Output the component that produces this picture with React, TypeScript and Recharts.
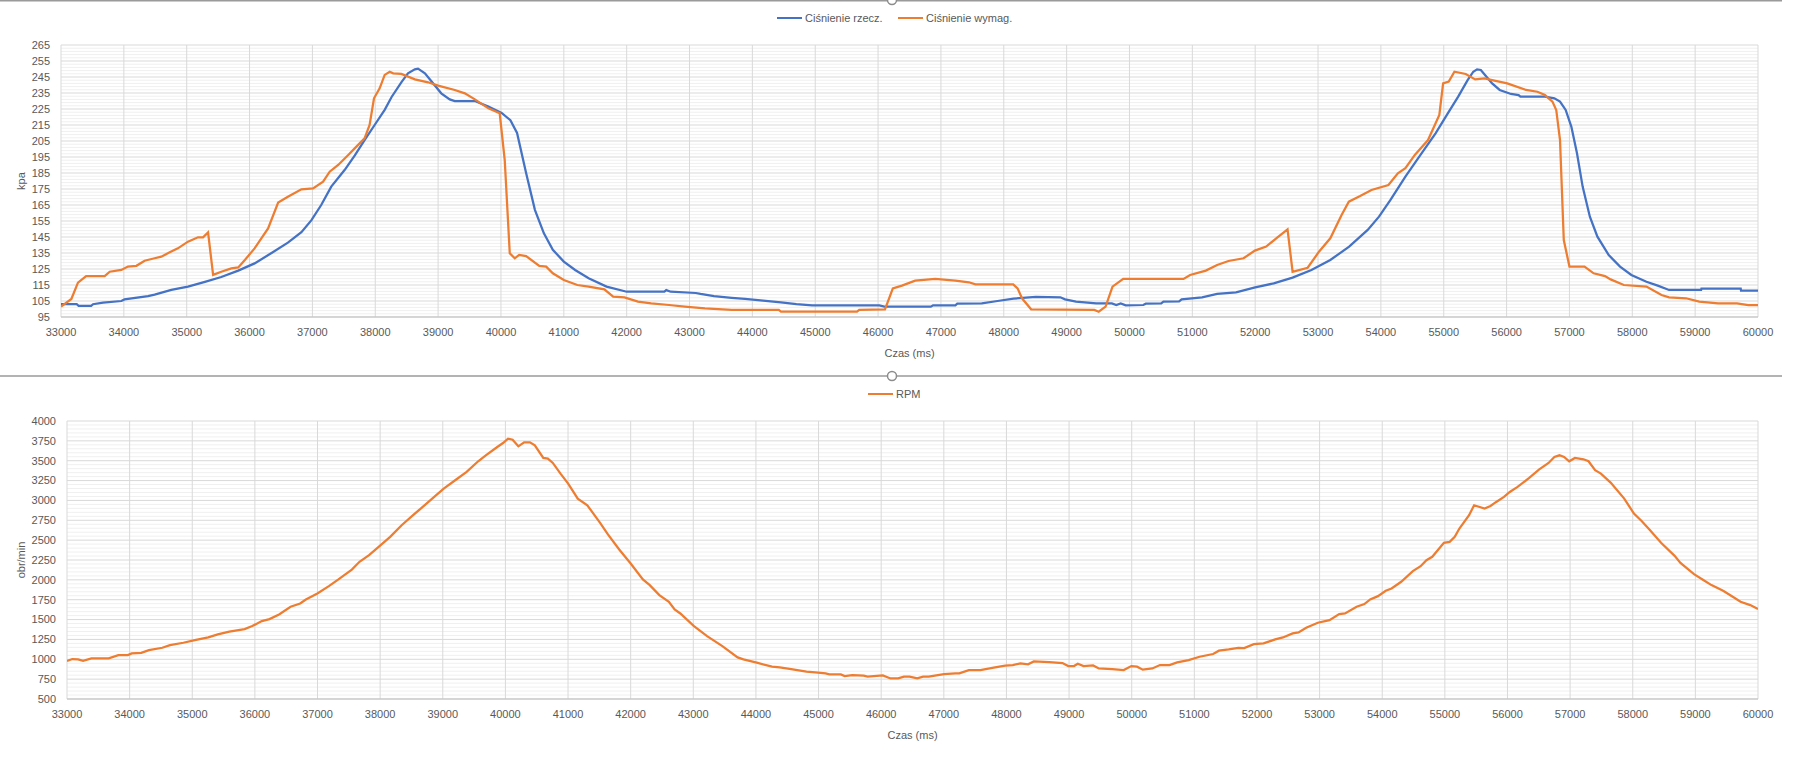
import React from 'react';
import { LineChart, Line, XAxis, YAxis, CartesianGrid } from 'recharts';

// ---------- tick labels ----------
const timeTicks = [
  33000, 34000, 35000, 36000, 37000, 38000, 39000, 40000, 41000, 42000, 43000, 44000, 45000, 46000,
  47000, 48000, 49000, 50000, 51000, 52000, 53000, 54000, 55000, 56000, 57000, 58000, 59000, 60000,
];
const pressureTicks = [95, 105, 115, 125, 135, 145, 155, 165, 175, 185, 195, 205, 215, 225, 235, 245, 255, 265];
const rpmTicks = [500, 750, 1000, 1250, 1500, 1750, 2000, 2250, 2500, 2750, 3000, 3250, 3500, 3750, 4000];

// ---------- Ciśnienie rzecz. (actual pressure) ----------
const actualT = [
  33000, 33250, 33280, 33480, 33510, 33670, 33960, 34010, 34385, 34490, 34755, 35020, 35290, 35550, 35820,
  36080, 36350, 36610, 36825, 36985, 37140, 37300, 37515, 37675, 37830, 37990, 38150, 38260, 38420, 38520,
  38630, 38680, 38790, 38890, 39050, 39185, 39265, 39585, 39800, 40010, 40150, 40256, 40400, 40540, 40683,
  40825, 41000, 41180, 41395, 41680, 42000, 42600, 42630, 42700, 43100, 43175, 43390, 43670, 43885, 44170,
  44455, 44700, 44950, 46020, 46100, 46840, 46875, 47230, 47260, 47650, 47900, 48155, 48510, 48900, 48975,
  49150, 49470, 49720, 49790, 49860, 49940, 50220, 50260, 50505, 50540, 50790, 50830, 51155, 51395, 51695,
  52000, 52295, 52595, 52895, 53195, 53495, 53790, 53970, 54150, 54390, 54630, 54870, 55050, 55230, 55380,
  55470, 55530, 55590, 55680, 55770, 55890, 56070, 56190, 56220, 56610, 56760, 56850, 56940, 57030, 57120,
  57210, 57325, 57445, 57625, 57805, 57985, 58225, 58405, 58585, 59095, 59100, 59725, 59730, 60000,
];
const actualV = [
  103, 103, 102, 102, 103, 104, 105, 106, 108, 109, 112, 114, 117, 120, 124,
  128.5, 135, 141.5, 148, 155.5, 165, 176.5, 187, 196, 205.5, 215, 224.5, 232.5, 242, 247.3,
  249.8, 250.2, 247.3, 242.5, 234.8, 231, 230, 230, 226.5, 222.5, 218, 210, 185, 162, 147.3,
  137, 129.6, 124.4, 119.2, 114, 110.8, 110.8, 111.8, 110.8, 110, 109.4, 108, 107, 106.3, 105.2,
  104.2, 103, 102.3, 102.3, 101.5, 101.5, 102.3, 102.3, 103.3, 103.5, 105, 106.5, 107.5, 107.3, 106,
  104.6, 103.5, 103.5, 102.5, 103.5, 102.3, 102.5, 103.3, 103.5, 104.6, 104.8, 106, 107.3, 109.4, 110.4,
  113.5, 116, 119.6, 124.4, 130.6, 139, 149.4, 157.7, 168, 182.7, 196.3, 209.8, 221.3, 232.7, 243,
  248.3, 249.8, 249.4, 245.2, 241, 236.9, 234.4, 233.7, 232.7, 232.7, 231.7, 229.6, 224.4, 214, 197.3,
  176.5, 157.7, 145.2, 133.7, 126.5, 121.3, 117, 114.6, 111.9, 111.9, 112.7, 112.7, 111.5, 111.5,
];

// ---------- Ciśnienie wymag. (requested pressure) ----------
const demandT = [
  33000, 33165, 33270, 33400, 33695, 33775, 33960, 34065, 34200, 34330, 34490, 34595, 34730, 34860, 35020,
  35180, 35260, 35340, 35420, 35550, 35710, 35820, 35925, 36080, 36295, 36455, 36610, 36825, 37010, 37170,
  37275, 37410, 37570, 37700, 37830, 37910, 37980, 38070, 38150, 38230, 38285, 38415, 38630, 38840, 39000,
  39265, 39425, 39585, 39800, 39980, 40060, 40140, 40220, 40290, 40400, 40610, 40720, 40825, 41000, 41215,
  41395, 41645, 41785, 41965, 42180, 42390, 42675, 42925, 43245, 43670, 44420, 44455, 45665, 45700, 46110,
  46235, 46380, 46590, 46910, 47230, 47445, 47550, 48150, 48220, 48290, 48435, 49440, 49510, 49620, 49730,
  49900, 50860, 50965, 51215, 51395, 51575, 51815, 51995, 52175, 52355, 52515, 52595, 52835, 53015, 53195,
  53375, 53490, 53670, 53850, 54120, 54270, 54390, 54540, 54750, 54930, 54990, 55080, 55170, 55350, 55500,
  55650, 55770, 56010, 56310, 56490, 56610, 56730, 56790, 56850, 56910, 57000, 57240, 57385, 57565, 57655,
  57865, 58225, 58465, 58585, 58855, 59065, 59365, 59665, 59845, 60000,
];
const demandV = [
  101.5, 106.3, 116.5, 120.6, 120.6, 123.3, 124.4, 126.5, 127, 130.2, 131.7, 132.7, 135.4, 137.9, 142.1,
  144.8, 144.8, 147.9, 121.3, 123.3, 125.4, 126, 130.6, 137.9, 150.4, 166.5, 170.2, 174.8, 175.4, 179.6,
  185.8, 190, 196.3, 201.5, 206.7, 215, 231.7, 237.9, 246.3, 248.3, 247.3, 246.9, 243.5, 241.7, 239.6,
  236.9, 234.8, 231, 225.4, 222.3, 193, 134.8, 131.7, 133.8, 133.1, 126.9, 126.5, 122.3, 118.1, 115,
  114, 112.3, 107.7, 107.3, 104.6, 103.5, 102.5, 101.5, 100.4, 99.4, 99.4, 98.3, 98.3, 99.4, 99.8,
  112.9, 114.6, 117.7, 118.8, 117.7, 116.7, 115.4, 115.4, 112.9, 106.7, 99.8, 99.4, 98.3, 101.5, 114,
  118.8, 118.8, 121.3, 124, 127.5, 130, 131.7, 136.5, 139, 144.8, 149.8, 123.3, 125.8, 135.8, 144.2,
  158.8, 167.1, 170.6, 174.4, 177.5, 184.8, 188, 196.3, 205.6, 221.3, 241, 242.1, 248.3, 246.9, 243.5,
  244.2, 243.1, 241, 236.9, 235.8, 233.7, 229.6, 224.4, 205.6, 143.1, 126.5, 126.5, 122.3, 120.6, 118.5,
  115, 114, 108.75, 107.3, 106.7, 104.6, 103.5, 103.5, 102.5, 102.5,
];

// ---------- RPM ----------
const rpmT = [
  33000, 33085, 33177, 33257, 33390, 33666, 33820, 33972, 34033, 34186, 34308, 34522, 34644, 34858, 35041,
  35255, 35408, 35592, 35836, 35958, 36111, 36233, 36386, 36570, 36723, 36814, 36998, 37181, 37334, 37548,
  37670, 37823, 37976, 38160, 38343, 38526, 38648, 38831, 39015, 39198, 39381, 39565, 39687, 39870, 39962,
  40042, 40115, 40207, 40299, 40391, 40470, 40605, 40678, 40757, 40880, 41002, 41155, 41308, 41512, 41634,
  41817, 42000, 42195, 42305, 42458, 42610, 42702, 42793, 43006, 43220, 43464, 43708, 43800, 44013, 44257,
  44380, 44563, 44807, 44990, 45112, 45173, 45356, 45417, 45539, 45722, 45783, 46027, 46149, 46271, 46363,
  46454, 46576, 46668, 46759, 47003, 47186, 47247, 47400, 47583, 47797, 47980, 48101, 48223, 48345, 48437,
  48681, 48895, 48987, 49078, 49139, 49231, 49384, 49475, 49689, 49872, 49994, 50085, 50177, 50329, 50451,
  50604, 50726, 50909, 51084, 51300, 51393, 51548, 51703, 51796, 51950, 52105, 52291, 52415, 52570, 52663,
  52786, 52972, 53158, 53313, 53406, 53591, 53715, 53808, 53932, 54056, 54149, 54303, 54489, 54613, 54706,
  54799, 54985, 55077, 55158, 55232, 55387, 55467, 55635, 55728, 55820, 55944, 56037, 56161, 56347, 56502,
  56656, 56749, 56830, 56904, 56985, 57077, 57214, 57294, 57399, 57492, 57647, 57864, 58019, 58142, 58266,
  58452, 58669, 58762, 58978, 59133, 59257, 59443, 59597, 59721, 59876, 60000,
];
const rpmV = [
  978, 1003, 999, 982, 1011, 1011, 1053, 1053, 1074, 1082, 1116, 1145, 1179, 1208, 1242,
  1275, 1313, 1347, 1380, 1418, 1481, 1506, 1565, 1661, 1703, 1753, 1829, 1921, 2005, 2130,
  2227, 2311, 2415, 2541, 2688, 2814, 2898, 3023, 3149, 3254, 3359, 3493, 3568, 3673, 3723,
  3778, 3765, 3681, 3732, 3732, 3694, 3535, 3526, 3472, 3338, 3212, 3023, 2939, 2717, 2575,
  2382, 2206, 2005, 1934, 1808, 1724, 1627, 1577, 1422, 1292, 1166, 1024, 999, 957, 907,
  898, 877, 844, 831, 822, 810, 810, 789, 801, 793, 781, 797, 759, 759, 781,
  781, 759, 781, 781, 814, 822, 822, 864, 864, 894, 919, 927, 948, 936, 973,
  965, 953, 915, 915, 944, 915, 923, 885, 877, 864, 915, 907, 869, 885, 927,
  927, 961, 990, 1032, 1066, 1108, 1124, 1145, 1141, 1191, 1200, 1250, 1275, 1326, 1338,
  1397, 1460, 1493, 1569, 1577, 1661, 1695, 1753, 1795, 1862, 1892, 1976, 2110, 2172, 2248,
  2290, 2466, 2478, 2541, 2646, 2814, 2939, 2898, 2931, 2981, 3044, 3107, 3170, 3283, 3388,
  3472, 3547, 3568, 3547, 3493, 3535, 3518, 3493, 3380, 3338, 3225, 3023, 2835, 2742, 2633,
  2466, 2302, 2214, 2072, 1996, 1934, 1862, 1787, 1724, 1682, 1632,
];

// minor gridline values (between the major ticks)
const minorPressure: number[] = [];
for (let v = 95; v <= 265; v += 2) if ((v - 95) % 10 !== 0) minorPressure.push(v);
const minorRpm: number[] = [];
for (let v = 500; v <= 4000; v += 50) if ((v - 500) % 250 !== 0) minorRpm.push(v);

const actualData = actualT.map((t, i) => ({ t, v: actualV[i] }));
const demandData = demandT.map((t, i) => ({ t, v: demandV[i] }));
const rpmData = rpmT.map((t, i) => ({ t, v: rpmV[i] }));

const FONT = '"Liberation Sans", Arial, sans-serif';
const TXT = '#595959';
const BLUE = '#4472C4';
const ORANGE = '#ED7D31';
const GRID = '#d9d9d9';
const MINOR = '#f0f0f0';

const tickStyle = { fill: TXT, fontSize: 11, fontFamily: FONT };

function LegendItem({ left, top, color, text }: { left: number; top: number; color: string; text: string }) {
  return (
    <div
      style={{
        position: 'absolute',
        left,
        top,
        height: 14,
        display: 'flex',
        alignItems: 'center',
        whiteSpace: 'nowrap',
        fontSize: 11,
        color: TXT,
        fontFamily: FONT,
      }}
    >
      <span style={{ display: 'inline-block', width: 25, height: 2.5, background: color, marginRight: 3 }} />
      <span>{text}</span>
    </div>
  );
}

export default function App() {
  return (
    <div
      style={{
        position: 'absolute',
        left: 0,
        top: 0,
        width: 1808,
        height: 765,
        background: '#ffffff',
        fontFamily: FONT,
        overflow: 'hidden',
      }}
    >
      {/* Top chart: pressure */}
      <div style={{ position: 'absolute', left: 0, top: 0 }}>
        <LineChart width={1808} height={376} margin={{ top: 45, right: 50, bottom: 14, left: 11 }}>
          <CartesianGrid horizontalValues={minorPressure} vertical={false} stroke={MINOR} strokeWidth={1} />
          <CartesianGrid stroke={GRID} strokeWidth={1} />
          <XAxis
            type="number"
            dataKey="t"
            domain={[33000, 60000]}
            ticks={timeTicks}
            interval={0}
            tickLine={false}
            tickSize={9}
            tickMargin={2}
            axisLine={{ stroke: '#bfbfbf' }}
            tick={tickStyle}
            height={45}
            allowDataOverflow
            label={{ value: 'Czas (ms)', position: 'insideBottom', offset: 5, fill: TXT, fontSize: 11, fontFamily: FONT }}
          />
          <YAxis
            type="number"
            domain={[95, 265]}
            ticks={pressureTicks}
            interval={0}
            tickLine={false}
            tickSize={9}
            tickMargin={2}
            axisLine={false}
            tick={tickStyle}
            width={50}
            allowDataOverflow
            label={{
              value: 'kpa',
              angle: -90,
              position: 'insideLeft',
              offset: 10,
              fill: TXT,
              fontSize: 11,
              fontFamily: FONT,
              style: { textAnchor: 'middle' },
            }}
          />
          <Line
            data={actualData}
            dataKey="v"
            type="linear"
            stroke={BLUE}
            strokeWidth={2.25}
            dot={false}
            activeDot={false}
            isAnimationActive={false}
            name="Ciśnienie rzecz."
          />
          <Line
            data={demandData}
            dataKey="v"
            type="linear"
            stroke={ORANGE}
            strokeWidth={2.25}
            dot={false}
            activeDot={false}
            isAnimationActive={false}
            name="Ciśnienie wymag."
          />
        </LineChart>
      </div>

      {/* Bottom chart: RPM */}
      <div style={{ position: 'absolute', left: 0, top: 376 }}>
        <LineChart width={1808} height={389} margin={{ top: 45, right: 50, bottom: 21, left: 11 }}>
          <CartesianGrid horizontalValues={minorRpm} vertical={false} stroke={MINOR} strokeWidth={1} />
          <CartesianGrid stroke={GRID} strokeWidth={1} />
          <XAxis
            type="number"
            dataKey="t"
            domain={[33000, 60000]}
            ticks={timeTicks}
            interval={0}
            tickLine={false}
            tickSize={9}
            tickMargin={2}
            axisLine={{ stroke: '#bfbfbf' }}
            tick={tickStyle}
            height={45}
            allowDataOverflow
            label={{ value: 'Czas (ms)', position: 'insideBottom', offset: 5, fill: TXT, fontSize: 11, fontFamily: FONT }}
          />
          <YAxis
            type="number"
            domain={[500, 4000]}
            ticks={rpmTicks}
            interval={0}
            tickLine={false}
            tickSize={9}
            tickMargin={2}
            axisLine={false}
            tick={tickStyle}
            width={56}
            allowDataOverflow
            label={{
              value: 'obr/min',
              angle: -90,
              position: 'insideLeft',
              offset: 10,
              fill: TXT,
              fontSize: 11,
              fontFamily: FONT,
              style: { textAnchor: 'middle' },
            }}
          />
          <Line
            data={rpmData}
            dataKey="v"
            type="linear"
            stroke={ORANGE}
            strokeWidth={2.25}
            dot={false}
            activeDot={false}
            isAnimationActive={false}
            name="RPM"
          />
        </LineChart>
      </div>

      {/* Legends */}
      <LegendItem left={777} top={11} color={BLUE} text="Ciśnienie rzecz." />
      <LegendItem left={898} top={11} color={ORANGE} text="Ciśnienie wymag." />
      <LegendItem left={868} top={387} color={ORANGE} text="RPM" />

      {/* Chart frame separators with handles */}
      <svg
        width={1808}
        height={765}
        style={{ position: 'absolute', left: 0, top: 0, pointerEvents: 'none' }}
      >
        <line x1={0} y1={0.75} x2={1782} y2={0.75} stroke="#9a9a9a" strokeWidth={1.5} />
        <circle cx={892} cy={0} r={4.5} fill="#ffffff" stroke="#8c8c8c" strokeWidth={1.5} />
        <line x1={0} y1={376} x2={1782} y2={376} stroke="#9a9a9a" strokeWidth={1.5} />
        <circle cx={892} cy={376} r={4.5} fill="#ffffff" stroke="#8c8c8c" strokeWidth={1.5} />
      </svg>
    </div>
  );
}
